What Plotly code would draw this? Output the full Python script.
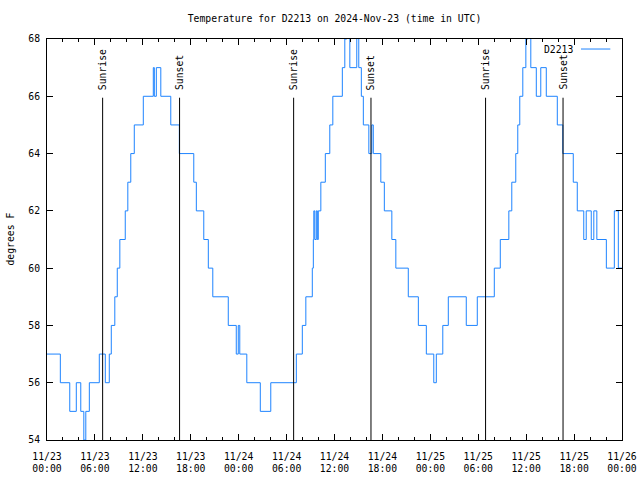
import pandas as pd
import plotly.graph_objects as go

# ---- data (hours after 2024-11-23 00:00 UTC, value in deg F) ----
start = pd.Timestamp("2024-11-23 00:00")
hours = [0.00, 1.67, 2.85, 3.67, 4.23, 4.61, 4.86, 5.30, 6.55, 7.30, 7.80, 8.05, 8.49, 8.80,
         9.12, 9.80, 10.12, 10.49, 10.93, 12.06, 13.31, 13.44, 13.69, 14.25, 15.50, 16.57,
         18.38, 18.70, 19.63, 20.20, 20.76, 22.70, 23.70, 23.95, 24.14, 25.02, 26.71, 28.02,
         31.22, 31.97, 32.41, 33.22, 33.35, 33.41, 33.53, 33.72, 33.85, 33.97, 34.29, 34.85,
         35.41, 35.79, 36.98, 37.29, 37.54, 37.92, 38.79, 39.04, 39.36, 39.61, 40.30, 40.67,
         40.86, 41.80, 42.24, 43.18, 43.68, 45.24, 46.50, 47.50, 48.43, 48.75,
         49.56, 50.25, 52.50, 53.88, 56.01, 56.76, 57.83, 58.20, 58.70, 58.95, 59.20, 59.58,
         59.96, 60.21, 60.58, 61.27, 61.83, 62.52, 63.90, 64.59, 65.90, 66.40, 67.21, 67.52,
         68.15, 68.47, 68.85, 70.04, 71.04, 71.54, 72.00]
temps = [57, 56, 55, 56, 55, 54, 55, 56, 57, 56, 57, 58, 59, 60,
         61, 62, 63, 64, 65, 66, 67, 66, 67, 66, 65, 64,
         63, 62, 61, 60, 59, 58, 57, 58, 57, 56, 55, 56,
         57, 58, 59, 60, 61, 62, 61, 62, 61, 62, 63, 64,
         65, 66, 67, 68, 69, 67, 69, 67, 66, 65, 64, 65,
         64, 63, 62, 61, 60, 59, 58, 57, 56, 57,
         58, 59, 58, 59, 60, 61, 62, 63, 64, 65, 66, 67,
         68, 69, 67, 66, 67, 66, 65, 64, 63, 62, 61, 62,
         61, 62, 61, 60, 62, 60, 60]

sunrise_times = ["2024-11-23 06:58", "2024-11-24 06:53", "2024-11-25 06:55"]
sunset_times = ["2024-11-23 16:36", "2024-11-24 16:34", "2024-11-25 16:37"]

y_ticks = [54, 56, 58, 60, 62, 64, 66, 68]
series_name = "D2213"
title_text = "Temperature for D2213 on 2024-Nov-23 (time in UTC)"
y_title = "degrees F"

FONT = "DejaVu Sans Mono"
FS = 9.75
LINE_COLOR = "#1e84ff"

W, H = 640, 480

times = [start + pd.Timedelta(hours=h) for h in hours]
x_end = start + pd.Timedelta(hours=72)

fig = go.Figure()
fig.add_trace(go.Scatter(
    x=times, y=temps, mode="lines", name=series_name,
    line=dict(color=LINE_COLOR, width=1, shape="hv"),
    showlegend=False, hoverinfo="x+y"))

shapes = []
annotations = []
for label, tlist in (("Sunrise", sunrise_times), ("Sunset", sunset_times)):
    for t in tlist:
        ts = pd.Timestamp(t)
        shapes.append(dict(type="line", xref="x", yref="y", x0=ts, x1=ts, y0=54, y1=65.95,
                           line=dict(color="black", width=1)))
        annotations.append(dict(x=ts, y=66.15, xref="x", yref="y", text=label,
                                textangle=-90, showarrow=False, xanchor="center",
                                yanchor="bottom", font=dict(family=FONT, size=FS, color="black")))

# key (gnuplot style: text then sample line)
shapes.append(dict(type="line", xref="paper", yref="paper", x0=0.9287, x1=0.9797,
                   y0=0.975, y1=0.975, line=dict(color=LINE_COLOR, width=1)))
annotations.append(dict(x=0.9175, y=0.975, xref="paper", yref="paper", text=series_name,
                        showarrow=False, xanchor="right", yanchor="middle",
                        font=dict(family=FONT, size=FS, color="black")))
# y axis title
annotations.append(dict(x=-37 / 575, y=0.5, xref="paper", yref="paper", text=y_title,
                        textangle=-90, showarrow=False, xanchor="center", yanchor="middle",
                        font=dict(family=FONT, size=FS, color="black")))

fig.update_layout(
    width=W, height=H,
    margin=dict(l=47, r=18, t=39, b=40, pad=0, autoexpand=False),
    paper_bgcolor="white", plot_bgcolor="white",
    font=dict(family=FONT, size=FS, color="black"),
    title=dict(text=title_text, x=0.5, xref="paper", xanchor="center",
               y=1 - 19 / H, yref="container", yanchor="middle",
               font=dict(family=FONT, size=FS, color="black")),
    shapes=shapes, annotations=annotations,
    showlegend=False,
)
fig.update_xaxes(
    type="date", range=[start, x_end], automargin=False,
    tick0=start, dtick=6 * 3600 * 1000, tickformat="%m/%d<br>%H:%M",
    ticks="inside", ticklen=6, tickcolor="black", tickwidth=1,
    minor=dict(dtick=2 * 3600 * 1000, ticks="inside", ticklen=3, tickcolor="black", tickwidth=1),
    showline=True, linecolor="black", linewidth=1, mirror="allticks",
    showgrid=False, zeroline=False, ticklabelstandoff=7,
    tickfont=dict(family=FONT, size=FS, color="black"),
)
fig.update_yaxes(
    range=[54, 68], tickvals=y_ticks, automargin=False,
    ticks="inside", ticklen=6, tickcolor="black", tickwidth=1,
    showline=True, linecolor="black", linewidth=1, mirror="allticks",
    showgrid=False, zeroline=False, ticklabelstandoff=4,
    tickfont=dict(family=FONT, size=FS, color="black"),
)

fig.write_html(
    "out.html",
    config={"displayModeBar": False},
    post_script="document.body.style.margin='0';document.body.style.overflow='hidden';",
)
